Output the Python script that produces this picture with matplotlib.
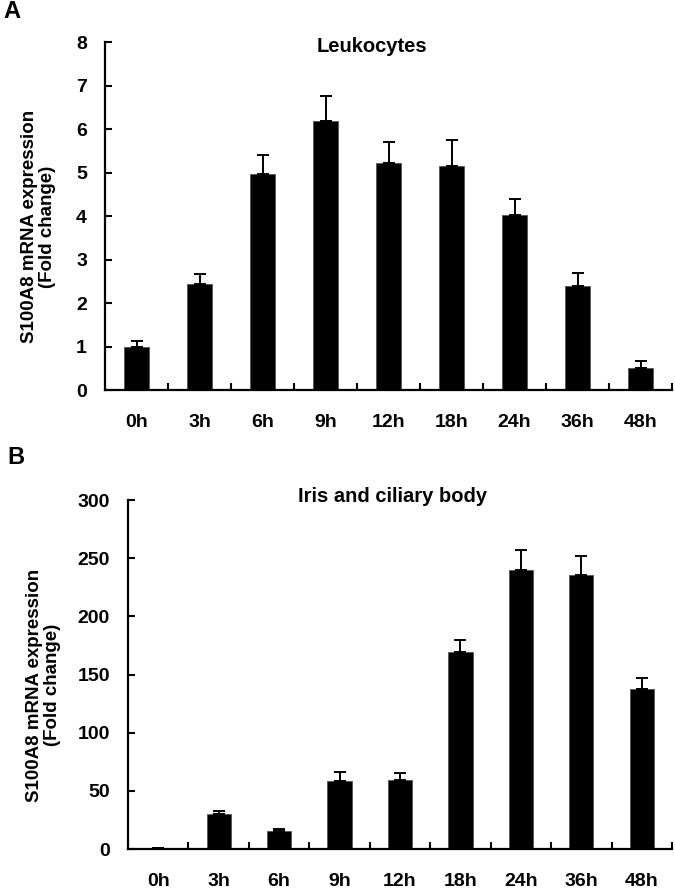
import matplotlib
matplotlib.use("Agg")
import matplotlib.pyplot as plt
import numpy as np

plt.rcParams['font.family'] = ['Liberation Sans', 'DejaVu Sans']
plt.rcParams['font.weight'] = 'bold'

categories = ["0h", "3h", "6h", "9h", "12h", "18h", "24h", "36h", "48h"]
leuko_vals = [1.0, 2.44, 4.97, 6.18, 5.22, 5.15, 4.03, 2.39, 0.51]
leuko_err = [0.13, 0.23, 0.43, 0.58, 0.48, 0.60, 0.35, 0.30, 0.16]
iris_vals = [1.0, 30, 15.5, 58.5, 59.3, 169, 240, 235.5, 137.6]
iris_err = [0.0, 2.5, 2.0, 7.5, 6.0, 11, 17, 16.5, 9.5]
titles = ["Leukocytes", "Iris and ciliary body"]
yticks_a = [0, 1, 2, 3, 4, 5, 6, 7, 8]
yticks_b = [0, 50, 100, 150, 200, 250, 300]
ylabel = "S100A8 mRNA expression\n(Fold change)"

fig = plt.figure(figsize=(6.75, 8.88), dpi=100)
W, H = 675, 888

def make_ax(left, right, top, bottom):
    return fig.add_axes([left / W, 1 - bottom / H, (right - left) / W, (bottom - top) / H])

axA = make_ax(105, 672, 42, 390)
axB = make_ax(128, 672, 500, 849)

def draw(ax, vals, errs, yticks, label_right_px, left_px, width_px):
    x = np.arange(len(categories))
    ax.bar(x, vals, width=0.4, color='black', edgecolor='#555555', linewidth=0.6, zorder=2)
    ax.errorbar(x, vals, yerr=[np.zeros(len(errs)), errs], fmt='none', ecolor='black',
                elinewidth=1.4, capsize=4, capthick=1.4, zorder=3)
    ax.set_xlim(-0.5, len(categories) - 0.5)
    ax.set_ylim(yticks[0], yticks[-1])
    ax.set_yticks(yticks)
    ax.set_yticklabels([str(t) for t in yticks], fontsize=14, fontweight='bold')
    ax.set_xticks(x)
    ax.set_xticklabels(categories, fontsize=14, fontweight='bold')
    ax.set_xticks(np.arange(0.5, len(categories)), minor=True)
    ax.tick_params(axis='x', which='major', length=0, pad=17)
    ax.tick_params(axis='x', which='minor', direction='in', length=5, width=1.5)
    ax.tick_params(axis='y', direction='in', length=5, width=1.5, pad=13)
    for s in ['top', 'right']:
        ax.spines[s].set_visible(False)
    for s in ['left', 'bottom']:
        ax.spines[s].set_linewidth(1.6)
    ax.set_ylabel(ylabel, fontsize=13.5, fontweight='bold', linespacing=1.05)
    ax.yaxis.set_label_coords((label_right_px - left_px) / width_px, 0.47)

draw(axA, leuko_vals, leuko_err, yticks_a, 56, 105, 567)
draw(axB, iris_vals, iris_err, yticks_b, 61, 128, 544)

fig.text(372 / W, 1 - 47 / H, titles[0], fontsize=14.5, fontweight='bold', ha='center', va='center')
fig.text(393 / W, 1 - 496 / H, titles[1], fontsize=14.5, fontweight='bold', ha='center', va='center')

fig.text(3 / W, 1 - 12 / H, "A", fontsize=17, fontweight='bold', va='center', ha='left')
fig.text(7 / W, 1 - 457 / H, "B", fontsize=17, fontweight='bold', va='center', ha='left')

fig.savefig("out.png", dpi=100)
